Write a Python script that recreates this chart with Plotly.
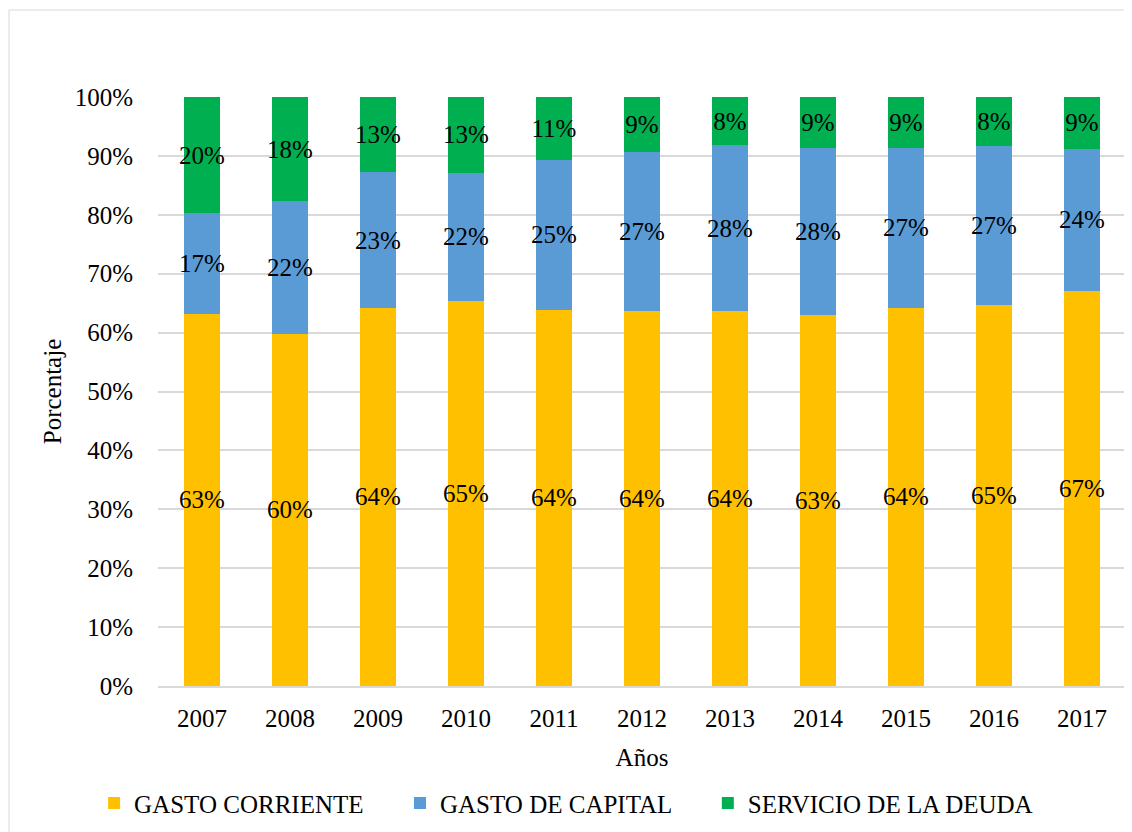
import plotly.graph_objects as go

# años y participación (%) de cada componente del gasto
anios = ["2007", "2008", "2009", "2010", "2011", "2012", "2013", "2014", "2015", "2016", "2017"]
gasto_corriente = [63.2, 59.8, 64.2, 65.4, 63.9, 63.6, 63.7, 63.0, 64.2, 64.7, 67.1]
gasto_capital = [17.1, 22.5, 23.0, 21.7, 25.4, 27.0, 28.1, 28.4, 27.2, 26.9, 24.1]
servicio_deuda = [19.7, 17.7, 12.8, 12.9, 10.7, 9.4, 8.2, 8.6, 8.6, 8.4, 8.8]

series = [
    ("GASTO CORRIENTE", gasto_corriente, "#FFC000", "legend", -0.066),
    ("GASTO DE CAPITAL", gasto_capital, "#5B9BD5", "legend2", 0.25),
    ("SERVICIO DE LA DEUDA", servicio_deuda, "#00B050", "legend3", 0.568),
]

FONT = "Liberation Serif"

fig = go.Figure()
for nombre, vals, color, leg, _ in series:
    fig.add_trace(go.Bar(
        name=nombre, x=anios, y=vals, legend=leg,
        marker=dict(color=color, line=dict(width=0)),
        text=[f"{round(v):.0f}%" for v in vals],
        textposition="inside", insidetextanchor="middle",
        textangle=0, constraintext="none",
        textfont=dict(family=FONT, size=25, color="black"),
        hoverinfo="skip",
    ))

# una leyenda por serie para repartirlas como en el original
for _, _, _, leg, lx in series:
    fig.update_layout({leg: dict(orientation="h", x=lx, xanchor="left", y=-0.16, yanchor="top",
                                 font=dict(family=FONT, size=25), itemclick=False,
                                 bgcolor="rgba(0,0,0,0)")})

# la página tiene 8px de margen en el body, así que la figura es 8px más chica
fig.update_layout(
    barmode="stack", bargap=0.6,
    width=1124, height=824,
    margin=dict(l=150, r=6, t=89, b=146),
    paper_bgcolor="white", plot_bgcolor="white",
    font=dict(family=FONT, size=25, color="black"),
    showlegend=True,
    xaxis=dict(showgrid=False, showline=True, linecolor="#D9D9D9", linewidth=1.5,
               ticks="", ticklabelstandoff=9, tickfont=dict(family=FONT, size=25),
               title=dict(text="Años", standoff=18, font=dict(family=FONT, size=25))),
    yaxis=dict(range=[0, 100], dtick=10, ticksuffix="%", showgrid=True,
               gridcolor="#D9D9D9", gridwidth=1.5, zeroline=False, showline=False,
               ticks="", ticklabelstandoff=24, tickfont=dict(family=FONT, size=25),
               title=dict(text="Porcentaje", standoff=5, font=dict(family=FONT, size=25))),
)

# marco del área del gráfico
fig.add_shape(type="rect", xref="paper", yref="paper",
              x0=(1 - 150) / 968, x1=1.05, y0=-0.30, y1=(678 - 2) / 589,
              line=dict(color="#D9D9D9", width=1), fillcolor="rgba(0,0,0,0)", layer="below")

fig.write_html("out.html")
